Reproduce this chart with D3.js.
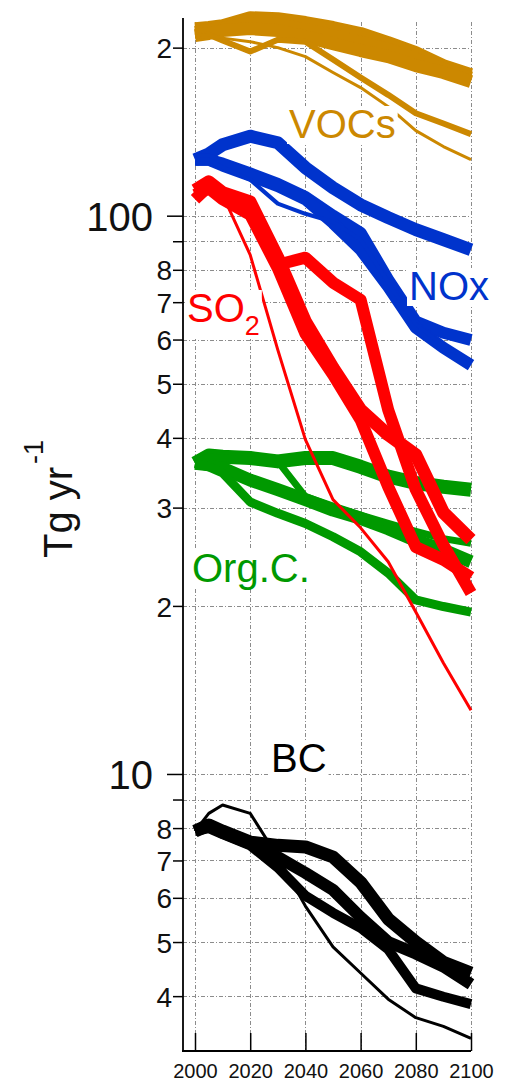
<!DOCTYPE html>
<html>
<head>
<meta charset="utf-8">
<script src="https://cdn.jsdelivr.net/npm/d3@7"></script>
<style>
  html, body { margin: 0; padding: 0; background: #fff; }
  svg { display: block; font-family: "Liberation Sans", Arial, sans-serif; }
</style>
</head>
<body>
<svg id="chart" width="509" height="1084"></svg>
<script>
// Emission years (Tg per year on a log axis)
const years = [2000, 2005, 2010, 2020, 2030, 2040, 2050, 2060, 2070, 2080, 2090, 2100];

// VOCs
const vocA = [216.3, 217.3, 219.0, 226.3, 225.4, 221.8, 217.3, 212.0, 204.2, 195.9, 185.7, 178.9];
const vocE = [213.0, 214.5, 216.5, 221.0, 220.0, 215.5, 210.0, 204.5, 198.5, 191.0, 183.0, 176.5];
const vocB = [210.2, 212.0, 214.6, 216.3, 214.6, 209.3, 203.3, 197.6, 192.7, 185.7, 180.5, 173.8];
const vocC = [210.0, 211.0, 206.0, 196.8, 206.7, 205.0, 190.4, 176.8, 164.6, 152.6, 146.3, 140.0];
const vocD = [210.0, 211.0, 208.0, 205.0, 200.0, 192.7, 180.5, 169.6, 156.8, 142.0, 133.0, 126.0];

// NOx
const noxA = [126.0, 129.0, 134.0, 138.8, 135.1, 121.9, 112.2, 104.6, 99.2, 94.4, 90.6, 86.9];
const noxB = [126.0, 126.0, 124.0, 119.0, 114.0, 108.0, 100.0, 93.2, 76.8, 64.6, 61.7, 59.9];
const noxC = [126.0, 126.0, 123.0, 118.0, 113.0, 107.0, 97.0, 86.9, 74.6, 63.0, 58.0, 54.0];
const noxD = [126.0, 126.0, 122.0, 116.0, 105.1, 100.8, 97.5, 90.6, 75.9, 63.9, 58.5, 55.0];

// SO2
const so2A = [111.0, 115.0, 110.0, 105.8, 84.1, 64.6, 53.4, 44.9, 40.5, 37.3, 29.4, 26.3];
const so2B = [109.0, 112.0, 107.0, 100.4, 80.5, 61.5, 51.9, 43.1, 32.7, 25.5, 24.2, 22.5];
const so2C = [107.0, 113.0, 108.0, 102.4, 81.7, 84.1, 75.9, 70.7, 44.9, 32.3, 25.7, 21.1];
const so2D = [111.0, 115.0, 109.0, 85.1, 57.5, 39.7, 31.0, 27.6, 24.0, 19.5, 15.8, 13.0];

// Organic carbon
const ocA = [36.0, 37.2, 37.0, 36.8, 36.3, 36.8, 36.8, 35.5, 34.1, 33.2, 32.7, 32.3];
const ocB = [36.0, 35.8, 35.3, 33.6, 32.3, 31.0, 29.7, 28.7, 27.5, 26.2, 25.2, 24.0];
const ocC = [36.0, 37.0, 36.8, 36.5, 36.3, 31.4, 30.2, 29.1, 28.1, 27.2, 26.4, 25.9];
const ocD = [36.0, 35.5, 34.6, 30.7, 29.3, 28.1, 26.6, 25.0, 22.9, 20.5, 19.95, 19.5];

// Black carbon
const bcA = [7.9, 8.1, 7.9, 7.55, 7.45, 7.4, 7.1, 6.4, 5.5, 5.0, 4.6, 4.4];
const bcB = [7.9, 8.1, 7.85, 7.5, 7.1, 6.65, 6.2, 5.54, 5.0, 4.77, 4.52, 4.2];
const bcC = [7.9, 8.0, 7.8, 7.45, 6.8, 6.05, 5.64, 5.3, 4.85, 4.13, 3.99, 3.87];
const bcD = [7.9, 8.5, 8.8, 8.5, 7.1, 5.8, 4.9, 4.4, 3.95, 3.66, 3.53, 3.36];

// Axis ticks
const xTicks = [2000, 2020, 2040, 2060, 2080, 2100];
const yTicks = [200, 100, 90, 80, 70, 60, 50, 40, 30, 20, 10, 9, 8, 7, 6, 5, 4];
const yTickLabels = ["2", "100", "", "8", "7", "6", "5", "4", "3", "2", "10", "", "8", "7", "6", "5", "4"];

const svg = d3.select("#chart");

const x = d3.scaleLinear().domain([2000, 2100]).range([195, 471]);
const y = d3.scaleLog().domain([3.19, 226]).range([1051, 18]);

const plotLeft = 183, plotRight = 471, plotTop = 18, plotBottom = 1051;

// dotted grid
const grid = svg.append("g")
  .attr("stroke", "#8c8c8c")
  .attr("stroke-width", 1)
  .attr("stroke-dasharray", "4,2,1,2");
grid.selectAll("line.h").data(yTicks).join("line")
  .attr("class", "h")
  .attr("x1", plotLeft).attr("x2", plotRight)
  .attr("y1", d => Math.round(y(d)) + 0.5).attr("y2", d => Math.round(y(d)) + 0.5);
grid.selectAll("line.v").data(xTicks).join("line")
  .attr("class", "v")
  .attr("x1", d => Math.round(x(d)) + 0.5).attr("x2", d => Math.round(x(d)) + 0.5)
  .attr("y1", 22).attr("y2", plotBottom);

// series
const colors = { voc: "#cc8800", nox: "#0033cc", so2: "#ff0000", oc: "#009900", bc: "#000000" };
const series = [
  { v: vocA, c: colors.voc, w: 13 },
  { v: vocE, c: colors.voc, w: 13 },
  { v: vocB, c: colors.voc, w: 13 },
  { v: vocC, c: colors.voc, w: 6 },
  { v: vocD, c: colors.voc, w: 3 },
  { v: noxA, c: colors.nox, w: 13 },
  { v: noxB, c: colors.nox, w: 12 },
  { v: noxC, c: colors.nox, w: 12 },
  { v: noxD, c: colors.nox, w: 4 },
  { v: ocA, c: colors.oc, w: 14 },
  { v: ocB, c: colors.oc, w: 13 },
  { v: ocC, c: colors.oc, w: 7 },
  { v: ocD, c: colors.oc, w: 9 },
  { v: so2A, c: colors.so2, w: 13 },
  { v: so2B, c: colors.so2, w: 12 },
  { v: so2C, c: colors.so2, w: 12 },
  { v: so2D, c: colors.so2, w: 3 },
  { v: bcA, c: colors.bc, w: 13 },
  { v: bcB, c: colors.bc, w: 12 },
  { v: bcC, c: colors.bc, w: 10 },
  { v: bcD, c: colors.bc, w: 3 }
];

const line = d3.line().x((d, i) => x(years[i])).y(d => y(d));
svg.append("g").selectAll("path").data(series).join("path")
  .attr("d", s => line(s.v))
  .attr("fill", "none")
  .attr("stroke", s => s.c)
  .attr("stroke-width", s => s.w)
  .attr("stroke-linejoin", "round")
  .attr("stroke-linecap", "butt");

// species labels on white boxes
const labels = svg.append("g");
function label(txt, xx, yy, color, sub) {
  const g = labels.append("g");
  const t = g.append("text")
    .attr("x", xx).attr("y", yy)
    .attr("fill", color)
    .attr("font-size", 40)
    .text(txt);
  if (sub) {
    t.append("tspan").attr("font-size", 27).attr("dy", 13).text(sub);
  }
  const b = t.node().getBBox();
  g.insert("rect", "text")
    .attr("x", b.x - 2).attr("y", b.y + 4)
    .attr("width", b.width + 4).attr("height", b.height - 6)
    .attr("fill", "#fff");
}
label("VOCs", 289, 138, colors.voc);
label("NOx", 409, 300, colors.nox);
label("SO", 187, 322, colors.so2, "2");
label("Org.C.", 192, 582, colors.oc);
label("BC", 271, 772, colors.bc);

// y axis
const yAxis = svg.append("g")
  .attr("transform", `translate(${plotLeft},0)`)
  .call(d3.axisLeft(y).tickValues(yTicks).tickFormat((d, i) => yTickLabels[i]).tickSizeOuter(0));
yAxis.select(".domain").remove();
yAxis.selectAll(".tick line")
  .attr("stroke", "#000").attr("stroke-width", 1.5)
  .attr("x2", d => (d === 100 || d === 10) ? -16 : -10);
yAxis.selectAll(".tick text")
  .attr("fill", "#111")
  .attr("font-family", "'Liberation Sans', Arial, sans-serif")
  .attr("font-size", d => (d === 100 || d === 10) ? 40 : 28)
  .attr("x", d => (d === 100 || d === 10) ? -30 : -11)
  .attr("dy", "0.36em");
svg.append("line")
  .attr("x1", plotLeft).attr("x2", plotLeft)
  .attr("y1", plotTop).attr("y2", plotBottom + 1)
  .attr("stroke", "#000").attr("stroke-width", 1.8);

// x axis with inward ticks
const xAxis = svg.append("g")
  .attr("transform", `translate(0,${plotBottom})`)
  .call(d3.axisBottom(x).tickValues(xTicks).tickFormat(d3.format("d")).tickSizeOuter(0).tickSizeInner(-18));
xAxis.select(".domain").remove();
xAxis.selectAll(".tick line").attr("stroke", "#000").attr("stroke-width", 1.5);
xAxis.selectAll(".tick text")
  .attr("fill", "#111")
  .attr("font-family", "'Liberation Sans', Arial, sans-serif")
  .attr("font-size", 20)
  .attr("y", 27)
  .attr("dy", 0);
svg.append("line")
  .attr("x1", plotLeft - 1).attr("x2", plotRight)
  .attr("y1", plotBottom).attr("y2", plotBottom)
  .attr("stroke", "#000").attr("stroke-width", 1.8);

// y axis title
const title = svg.append("text")
  .attr("transform", "translate(72,558) rotate(-90)")
  .attr("font-size", 40)
  .attr("fill", "#111");
title.append("tspan").text("Tg yr");
title.append("tspan").attr("font-size", 27).attr("dx", 3).attr("dy", -29).text("-1");
</script>
</body>
</html>
